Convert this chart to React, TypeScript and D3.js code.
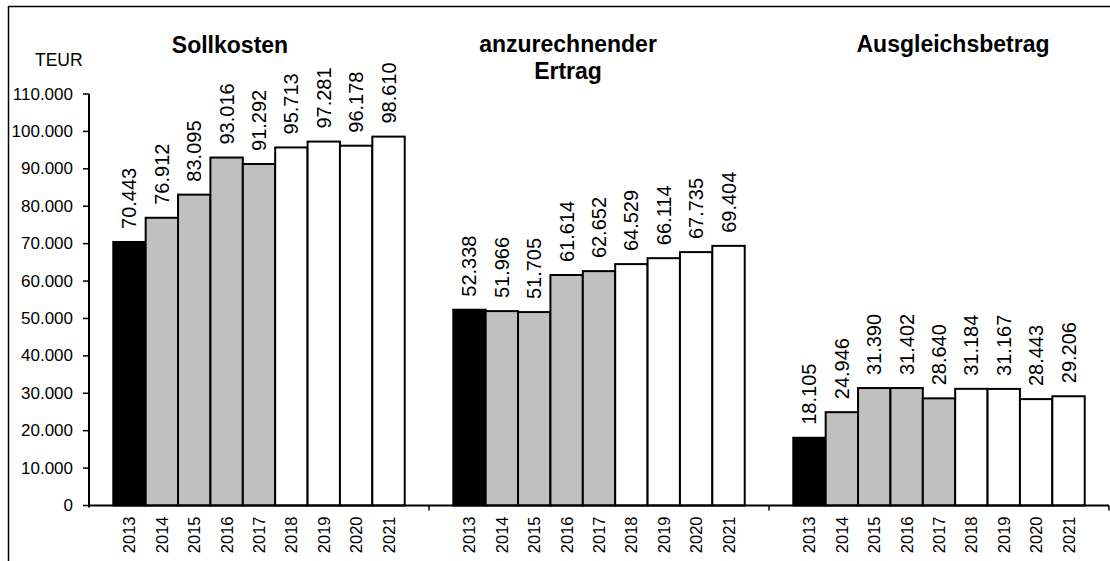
import React from "react";
import * as d3 from "d3";

const groups = ["Sollkosten", "anzurechnender Ertrag", "Ausgleichsbetrag"];
const years = ["2013", "2014", "2015", "2016", "2017", "2018", "2019", "2020", "2021"];
const sollkosten = [70443, 76912, 83095, 93016, 91292, 95713, 97281, 96178, 98610];
const ertrag = [52338, 51966, 51705, 61614, 62652, 64529, 66114, 67735, 69404];
const ausgleich = [18105, 24946, 31390, 31402, 28640, 31184, 31167, 28443, 29206];
const yTicks = [0, 10000, 20000, 30000, 40000, 50000, 60000, 70000, 80000, 90000, 100000, 110000];
const titleLines = [["Sollkosten"], ["anzurechnender", "Ertrag"], ["Ausgleichsbetrag"]];
const unitLabel = "TEUR";

const series = [sollkosten, ertrag, ausgleich];

const W = 1110;
const H = 561;
const FONT = "'Liberation Sans', Arial, sans-serif";

const de = d3.formatLocale({ decimal: ",", thousands: ".", grouping: [3], currency: ["", " €"] });
const fmt = de.format(",.0f");

function yearColor(y: string) {
  const n = +y;
  if (n <= 2013) return "#000000";
  if (n <= 2017) return "#c0c0c0";
  return "#ffffff";
}

export default function App() {
  const x0 = 89;
  const x1 = 1109;
  const yBase = 505.5;
  const yTop = 94;

  const y = d3.scaleLinear().domain([0, 110000]).range([yBase, yTop]);
  const gx = d3.scaleBand<string>().domain(groups).range([x0, x1]).padding(0);
  const gap = 1.5; // Excel gap width 150%
  const bx = d3
    .scaleBand<string>()
    .domain(years)
    .range([0, gx.bandwidth()])
    .paddingInner(0)
    .paddingOuter(gap / 2);

  const titlePos = [
    { x: 230, y: 53 },
    { x: 568, y: 52 },
    { x: 953, y: 52 },
  ];

  return (
    <svg
      width={W}
      height={H}
      style={{ position: "absolute", left: 0, top: 0, background: "#fff" }}
      fontFamily={FONT}
    >
      <rect x={0} y={0} width={W} height={H} fill="#fff" />
      {/* chart border */}
      <line x1={8.5} y1={6} x2={8.5} y2={H} stroke="#000" strokeWidth={1.5} />
      <line x1={8} y1={6.5} x2={W} y2={6.5} stroke="#000" strokeWidth={1.5} />

      {/* unit */}
      <text x={35} y={66} fontSize={17.5} fill="#000">
        {unitLabel}
      </text>

      {/* titles */}
      {titleLines.map((lines, gi) => (
        <text
          key={gi}
          x={titlePos[gi].x}
          y={titlePos[gi].y}
          fontSize={23}
          fontWeight="bold"
          textAnchor="middle"
          fill="#000"
        >
          {lines.map((l, li) => (
            <tspan key={li} x={titlePos[gi].x} dy={li === 0 ? 0 : 27}>
              {l}
            </tspan>
          ))}
        </text>
      ))}

      {/* bars */}
      {groups.map((g, gi) =>
        years.map((yr, i) => {
          const v = series[gi][i];
          const bxPos = (gx(g) as number) + (bx(yr) as number);
          const w = bx.bandwidth();
          const top = y(v);
          return (
            <g key={g + yr}>
              <rect
                x={bxPos}
                y={top}
                width={w}
                height={yBase - top}
                fill={yearColor(yr)}
                stroke="#000"
                strokeWidth={2}
              />
              <text
                transform={`translate(${bxPos + w / 2},${top - 13}) rotate(-90)`}
                fontSize={20}
                dominantBaseline="central"
                textAnchor="start"
                fill="#000"
              >
                {fmt(v)}
              </text>
              <text
                transform={`translate(${bxPos + w / 2},${yBase + 11}) rotate(-90)`}
                fontSize={16.5}
                dominantBaseline="central"
                textAnchor="end"
                fill="#000"
              >
                {yr}
              </text>
            </g>
          );
        })
      )}

      {/* y axis */}
      <line x1={x0} y1={yTop} x2={x0} y2={yBase + 2} stroke="#000" strokeWidth={2} />
      {yTicks.map((t) => (
        <g key={t}>
          <line x1={x0 - 6} y1={y(t)} x2={x0} y2={y(t)} stroke="#000" strokeWidth={1.5} />
          <text x={73} y={y(t)} fontSize={17} textAnchor="end" dominantBaseline="central" fill="#000">
            {fmt(t)}
          </text>
        </g>
      ))}

      {/* x axis */}
      <line x1={x0} y1={yBase} x2={x1} y2={yBase} stroke="#000" strokeWidth={2} />
      {groups.map((g) => {
        const xe = (gx(g) as number) + gx.bandwidth();
        return <line key={g} x1={xe} y1={yBase} x2={xe} y2={yBase + 5} stroke="#000" strokeWidth={1.5} />;
      })}
    </svg>
  );
}
